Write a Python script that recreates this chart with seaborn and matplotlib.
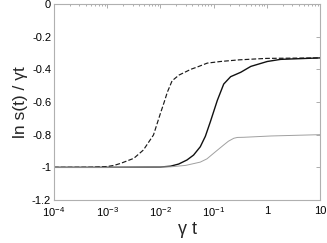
import numpy as np
import pandas as pd
import matplotlib
matplotlib.use("Agg")
import matplotlib.pyplot as plt
import matplotlib.ticker as mticker
import seaborn as sns

# ---- data ----
dash_x = [1e-4, 5e-4, 1e-3, 1.35e-3, 1.78e-3, 3.16e-3, 4.79e-3, 7.41e-3, 0.01, 0.0118, 0.0135,
          0.0166, 0.0224, 0.03, 0.0372, 0.05, 0.0759, 0.135, 0.3, 0.575, 1.0, 10.0]
dash_y = [-1.0, -0.999, -0.995, -0.988, -0.976, -0.945, -0.894, -0.802, -0.67, -0.6, -0.54,
          -0.47, -0.435, -0.415, -0.40, -0.385, -0.362, -0.352, -0.342, -0.337, -0.333, -0.33]

solid_x = [1e-4, 1e-3, 0.01, 0.0155, 0.022, 0.0316, 0.042, 0.0562, 0.07, 0.0871, 0.1175,
           0.155, 0.209, 0.324, 0.501, 1.02, 1.82, 10.0]
solid_y = [-1.0, -1.0, -0.998, -0.993, -0.98, -0.955, -0.925, -0.874, -0.81, -0.72, -0.59,
           -0.49, -0.445, -0.418, -0.382, -0.352, -0.339, -0.33]

gray_x = [1e-4, 1e-3, 0.0155, 0.03, 0.0562, 0.075, 0.1, 0.125, 0.155, 0.19, 0.24, 0.28,
          0.372, 1.2, 10.0]
gray_y = [-1.0, -1.0, -0.997, -0.988, -0.968, -0.948, -0.914, -0.888, -0.863, -0.84, -0.822,
          -0.817, -0.816, -0.808, -0.80]

xticks = [1e-4, 1e-3, 1e-2, 1e-1, 1, 10]
xtick_labels = [r"$10^{-4}$", r"$10^{-3}$", r"$10^{-2}$", r"$10^{-1}$", "1", "10"]
yticks = [0, -0.2, -0.4, -0.6, -0.8, -1.0, -1.2]
ytick_labels = ["0", "-0.2", "-0.4", "-0.6", "-0.8", "-1", "-1.2"]

df = pd.concat([
    pd.DataFrame({"x": dash_x, "y": dash_y, "s": "dash"}),
    pd.DataFrame({"x": solid_x, "y": solid_y, "s": "solid"}),
    pd.DataFrame({"x": gray_x, "y": gray_y, "s": "gray"}),
])

sns.set_theme(style="white")
plt.rcParams["font.family"] = ["Liberation Sans", "DejaVu Sans"]
plt.rcParams["mathtext.fontset"] = "custom"
plt.rcParams["mathtext.rm"] = "Liberation Sans"
plt.rcParams["mathtext.it"] = "Liberation Sans"
plt.rcParams["mathtext.bf"] = "Liberation Sans"

fig = plt.figure(figsize=(3.27, 2.43), dpi=100)
ax = fig.add_axes([54/327, 1-200/243, (320-54)/327, (200-4)/243])

sns.lineplot(data=df, x="x", y="y", hue="s", style="s", size="s",
             palette={"dash": "#1a1a1a", "solid": "#111111", "gray": "#a0a0a0"},
             dashes={"dash": (4, 1.8), "solid": "", "gray": ""},
             sizes={"dash": 0.85, "solid": 1.0, "gray": 0.7},
             legend=False, ax=ax)

ax.set_xscale("log")
ax.set_xlim(1e-4, 10)
ax.set_ylim(-1.2, 0)
ax.set_xticks(xticks)
ax.set_xticklabels(xtick_labels, fontsize=8)
ax.xaxis.set_minor_locator(mticker.LogLocator(base=10, subs=np.arange(2, 10), numticks=20))
ax.xaxis.set_minor_formatter(mticker.NullFormatter())
ax.set_yticks(yticks)
ax.set_yticklabels(ytick_labels, fontsize=8)

ax.tick_params(which="both", direction="in", top=True, right=True, colors="#a0a0a0",
               labelcolor="black", width=0.6)
ax.tick_params(which="major", length=3)
ax.tick_params(axis="y", which="major", pad=2)
ax.tick_params(axis="x", which="major", pad=4)
ax.tick_params(which="minor", length=1.5)
for sp in ax.spines.values():
    sp.set_color("#b0b0b0")
    sp.set_linewidth(0.8)

ax.set_xlabel("γ t", fontsize=13, labelpad=1)
ax.set_ylabel("ln s(t) / γt", fontsize=12.5, labelpad=3)

fig.savefig("out.png", dpi=100)
